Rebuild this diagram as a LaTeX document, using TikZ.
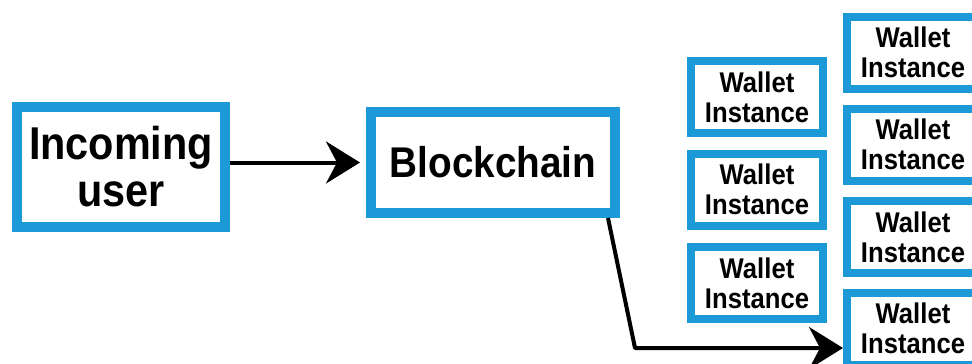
\documentclass[tikz,border=0pt]{standalone}
\usepackage{fontspec}
\newfontfamily\wfont[FakeStretch=0.9]{Liberation Sans}
\usetikzlibrary{arrows.meta,calc}
\definecolor{boxblue}{RGB}{27,154,215}
\begin{document}
\begin{tikzpicture}[x=1pt,y=-1pt,
  bigbox/.style={draw=boxblue,line width=10pt,fill=white,inner sep=0pt,align=center},
  walletbox/.style={draw=boxblue,line width=8pt,fill=white,inner sep=0pt,align=center,
     minimum width=132pt,minimum height=72pt,
     font=\wfont\bfseries\fontsize{28.5}{30}\selectfont},
  conn/.style={line width=4pt,-{Stealth[length=34pt,width=42pt,inset=11pt]}}]
\useasboundingbox (0,0) rectangle (972,364);
\clip (0,0) rectangle (972,364);
\node[bigbox,minimum width=208pt,minimum height=120pt,
  font=\wfont\bfseries\fontsize{46}{47}\selectfont] (iu) at (121,167) {Incoming\\user};
\node[bigbox,minimum width=244pt,minimum height=101pt,
  font=\wfont\bfseries\fontsize{43}{44}\selectfont] (bc) at (493,162.5) {Blockchain};
\node[walletbox] (l1) at (757,97) {Wallet\\Instance};
\node[walletbox] (l2) at (757,189.5) {Wallet\\Instance};
\node[walletbox] (l3) at (757,283) {Wallet\\Instance};
\node[walletbox] (r1) at (913,52.5) {Wallet\\Instance};
\node[walletbox] (r2) at (913,144.5) {Wallet\\Instance};
\node[walletbox] (r3) at (913,237) {Wallet\\Instance};
\node[walletbox] (r4) at (913,328.5) {Wallet\\Instance};
\coordinate (start) at ($(bc.south east)+(-12,0)$);
\coordinate (bend) at (635,348);
\draw[conn,shorten >=6pt] (bc.west -| iu.east) -- (bc.west);
\draw[conn,line join=round] (start) -- (bend) -- (bend -| r4.west);
\end{tikzpicture}
\end{document}
